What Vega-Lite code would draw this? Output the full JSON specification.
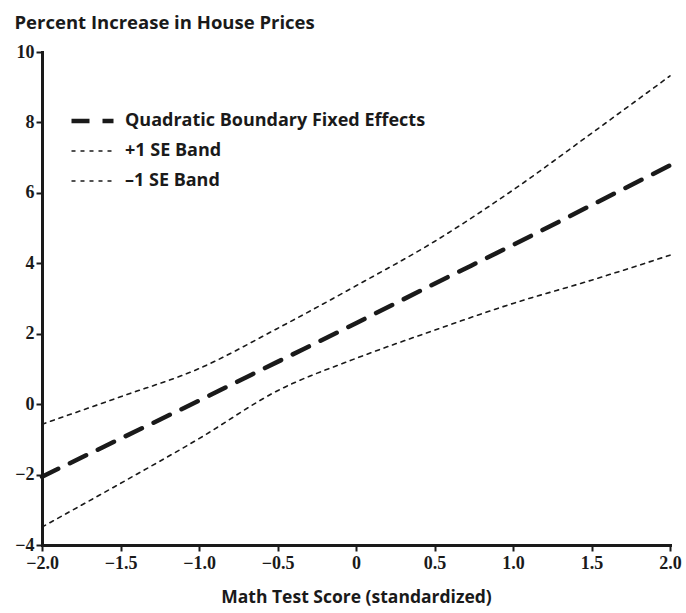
{
  "$schema": "https://vega.github.io/schema/vega-lite/v6.json",
  "width": 628,
  "height": 493,
  "autosize": {"type": "none"},
  "padding": {"left": 42, "top": 52, "right": 16, "bottom": 68},
  "background": "white",
  "config": {"view": {"stroke": null}},
  "data": {"values": [
    {"x": -2.0, "y": -2.06, "s": "Quadratic Boundary Fixed Effects"},
    {"x": -1.5, "y": -0.98, "s": "Quadratic Boundary Fixed Effects"},
    {"x": -1.0, "y": 0.10, "s": "Quadratic Boundary Fixed Effects"},
    {"x": -0.5, "y": 1.20, "s": "Quadratic Boundary Fixed Effects"},
    {"x": 0.0, "y": 2.30, "s": "Quadratic Boundary Fixed Effects"},
    {"x": 0.5, "y": 3.42, "s": "Quadratic Boundary Fixed Effects"},
    {"x": 1.0, "y": 4.52, "s": "Quadratic Boundary Fixed Effects"},
    {"x": 1.5, "y": 5.65, "s": "Quadratic Boundary Fixed Effects"},
    {"x": 2.0, "y": 6.78, "s": "Quadratic Boundary Fixed Effects"},
    {"x": -2.0, "y": -0.57, "s": "+1 SE Band"},
    {"x": -1.5, "y": 0.21, "s": "+1 SE Band"},
    {"x": -1.0, "y": 1.01, "s": "+1 SE Band"},
    {"x": -0.5, "y": 2.15, "s": "+1 SE Band"},
    {"x": 0.0, "y": 3.36, "s": "+1 SE Band"},
    {"x": 0.5, "y": 4.62, "s": "+1 SE Band"},
    {"x": 1.0, "y": 6.08, "s": "+1 SE Band"},
    {"x": 1.5, "y": 7.69, "s": "+1 SE Band"},
    {"x": 2.0, "y": 9.32, "s": "+1 SE Band"},
    {"x": -2.0, "y": -3.49, "s": "–1 SE Band"},
    {"x": -1.5, "y": -2.25, "s": "–1 SE Band"},
    {"x": -1.0, "y": -0.98, "s": "–1 SE Band"},
    {"x": -0.5, "y": 0.38, "s": "–1 SE Band"},
    {"x": 0.0, "y": 1.30, "s": "–1 SE Band"},
    {"x": 0.5, "y": 2.10, "s": "–1 SE Band"},
    {"x": 1.0, "y": 2.86, "s": "–1 SE Band"},
    {"x": 1.5, "y": 3.52, "s": "–1 SE Band"},
    {"x": 2.0, "y": 4.23, "s": "–1 SE Band"}
  ]},
  "mark": {"type": "line", "color": "#1a1a1a", "interpolate": "monotone", "strokeCap": "round"},
  "encoding": {
    "x": {
      "field": "x", "type": "quantitative",
      "scale": {"domain": [-2, 2], "nice": false, "zero": false},
      "axis": {
        "values": [-2, -1.5, -1, -0.5, 0, 0.5, 1, 1.5, 2],
        "labelExpr": "datum.value == 0 ? '0' : replace(format(datum.value, '.1f'), '-', '−')",
        "grid": false,
        "domainColor": "#1a1a1a", "domainWidth": 3, "domainCap": "square",
        "tickColor": "#1a1a1a", "tickWidth": 2, "tickSize": 6,
        "labelFont": "Liberation Serif", "labelFontWeight": "bold", "labelFontSize": 18, "labelColor": "#1a1a1a",
        "labelPadding": 3, "labelFlush": false, "labelOverlap": false,
        "title": "Math Test Score (standardized)",
        "titleFont": "Open Sans", "titleFontWeight": "bold", "titleFontSize": 17.5, "titleColor": "#1a1a1a",
        "titlePadding": 16
      }
    },
    "y": {
      "field": "y", "type": "quantitative",
      "scale": {"domain": [-4, 10], "nice": false, "zero": false},
      "axis": {
        "values": [-4, -2, 0, 2, 4, 6, 8, 10],
        "labelExpr": "replace(format(datum.value, 'd'), '-', '−')",
        "grid": false,
        "domainColor": "#1a1a1a", "domainWidth": 3, "domainCap": "square",
        "tickColor": "#1a1a1a", "tickWidth": 2, "tickSize": 6,
        "labelFont": "Liberation Serif", "labelFontWeight": "bold", "labelFontSize": 18, "labelColor": "#1a1a1a",
        "labelPadding": 2, "labelFlush": false, "labelOverlap": false,
        "title": "Percent Increase in House Prices",
        "titleFont": "Open Sans", "titleFontWeight": "bold", "titleFontSize": 18.5, "titleColor": "#1a1a1a",
        "titleAngle": 0, "titleAlign": "left", "titleBaseline": "alphabetic",
        "titleX": -28, "titleY": -24
      }
    },
    "detail": {"field": "s"},
    "strokeDash": {
      "field": "s", "type": "nominal",
      "scale": {"domain": ["Quadratic Boundary Fixed Effects", "+1 SE Band", "–1 SE Band"], "range": [[18, 13], [4, 5], [4, 5]]},
      "legend": {
        "title": null, "orient": "none", "legendX": 27, "legendY": 54, "padding": 0,
        "symbolType": "stroke", "symbolSize": 1764, "symbolStrokeColor": "#1a1a1a",
        "labelFont": "Open Sans", "labelFontWeight": "bold", "labelFontSize": 18, "labelColor": "#1a1a1a",
        "labelLimit": 420, "clipHeight": 30, "rowPadding": 0, "labelOffset": 9, "symbolOffset": 0
      }
    },
    "strokeWidth": {
      "field": "s", "type": "nominal",
      "scale": {"type": "ordinal", "domain": ["Quadratic Boundary Fixed Effects", "+1 SE Band", "–1 SE Band"], "range": [4.5, 1.6, 1.6]},
      "legend": {
        "title": null, "orient": "none", "legendX": 27, "legendY": 54, "padding": 0,
        "symbolType": "stroke", "symbolSize": 1764, "symbolStrokeColor": "#1a1a1a",
        "labelFont": "Open Sans", "labelFontWeight": "bold", "labelFontSize": 18, "labelColor": "#1a1a1a",
        "labelLimit": 420, "clipHeight": 30, "rowPadding": 0, "labelOffset": 9, "symbolOffset": 0
      }
    }
  }
}
